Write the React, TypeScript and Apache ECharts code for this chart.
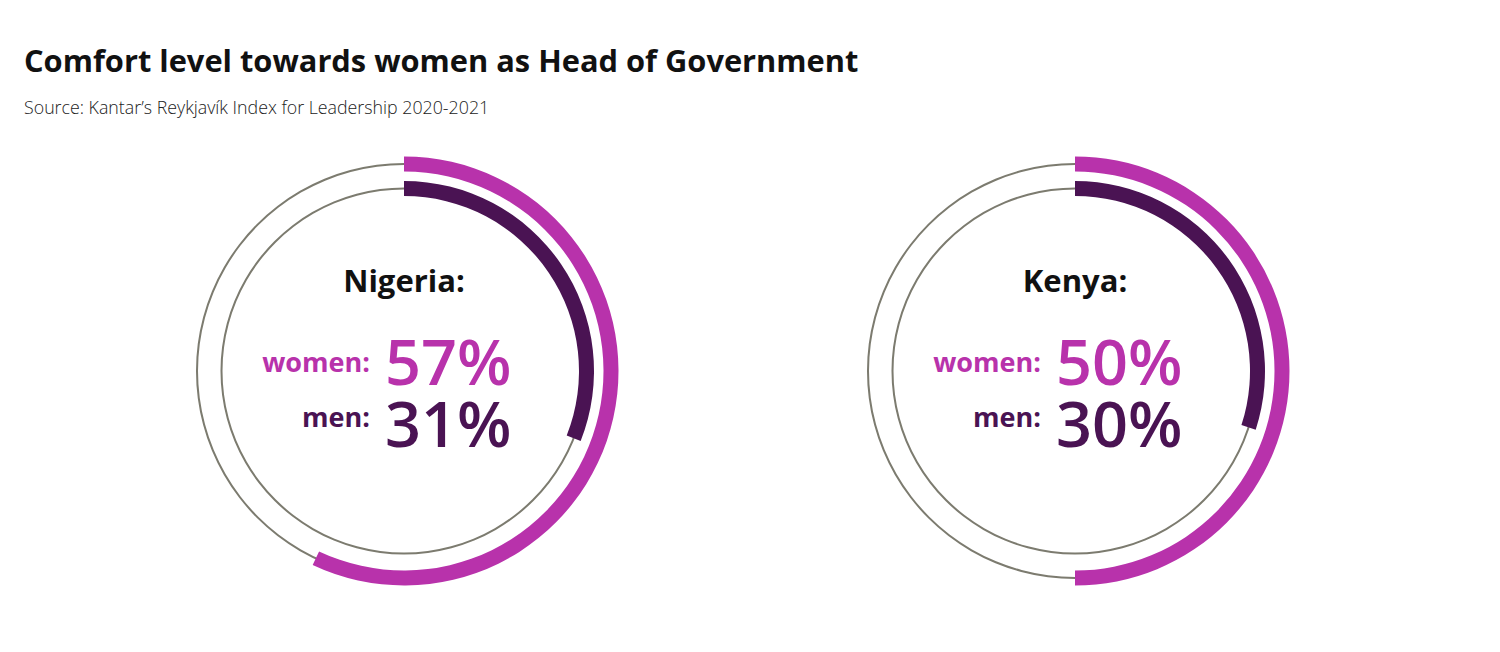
import React, { useEffect, useRef } from "react";
import * as echarts from "echarts";

const countries = ["Nigeria", "Kenya"];
const womenValues = [57, 50];
const menValues = [31, 30];
const groupLabels = ["women:", "men:"];
const titleText = "Comfort level towards women as Head of Government";
const sourceText = "Source: Kantar\u2019s Reykjavík Index for Leadership 2020-2021";

const MAGENTA = "#b832ab";
const PURPLE = "#4a1353";
const GRAY = "#7c7b6f";
const FONT = "'Open Sans'";

export default function App() {
  const ref = useRef<HTMLDivElement>(null);
  useEffect(() => {
    if (!ref.current) return;
    const chart = echarts.init(ref.current, null, { renderer: "svg" });
    const centersX = [404, 1075];
    const cy = 371;
    const series: any[] = [];
    const graphics: any[] = [];
    const base = {
      type: "pie",
      silent: true,
      label: { show: false },
      labelLine: { show: false },
      emphasis: { disabled: true },
      startAngle: 90,
      clockwise: true,
      avoidLabelOverlap: false,
    };
    countries.forEach((name, i) => {
      const cx = centersX[i];
      series.push({
        ...base,
        z: 1,
        center: [cx, cy],
        radius: [206, 208],
        data: [{ value: 100, itemStyle: { color: GRAY } }],
      });
      series.push({
        ...base,
        z: 1,
        center: [cx, cy],
        radius: [181.5, 183.5],
        data: [{ value: 100, itemStyle: { color: GRAY } }],
      });
      series.push({
        ...base,
        z: 2,
        center: [cx, cy],
        radius: [199.5, 214.5],
        data: [
          { value: womenValues[i], itemStyle: { color: MAGENTA } },
          { value: 100 - womenValues[i], itemStyle: { color: "transparent" } },
        ],
      });
      series.push({
        ...base,
        z: 2,
        center: [cx, cy],
        radius: [175, 190],
        data: [
          { value: menValues[i], itemStyle: { color: PURPLE } },
          { value: 100 - menValues[i], itemStyle: { color: "transparent" } },
        ],
      });
      graphics.push({
        type: "text",
        x: cx,
        y: 280,
        style: { text: name + ":", font: `bold 31px ${FONT}`, fill: "#111", align: "center", verticalAlign: "middle" },
      });
      graphics.push({
        type: "text",
        x: cx - 34,
        y: 361.5,
        style: { text: groupLabels[0], font: `bold 27px ${FONT}`, fill: MAGENTA, align: "right", verticalAlign: "middle", lineHeight: 24 },
      });
      graphics.push({
        type: "text",
        x: cx - 34,
        y: 416.5,
        style: { text: groupLabels[1], font: `bold 27px ${FONT}`, fill: PURPLE, align: "right", verticalAlign: "middle", lineHeight: 24 },
      });
      graphics.push({
        type: "text",
        x: cx - 19,
        y: 329,
        style: {
          text: `{w|${womenValues[i]}%}\n{m|${menValues[i]}%}`,
          align: "left",
          verticalAlign: "top",
          rich: {
            w: { font: `600 63px ${FONT}`, fill: MAGENTA, lineHeight: 62 },
            m: { font: `600 63px ${FONT}`, fill: PURPLE, lineHeight: 62 },
          },
        },
      });
    });
    graphics.push({
      type: "text",
      x: 24,
      y: 60,
      style: { text: titleText, font: `bold 30.8px ${FONT}`, fill: "#111", align: "left", verticalAlign: "middle" },
    });
    graphics.push({
      type: "text",
      x: 24,
      y: 106.5,
      style: { text: sourceText, font: `300 17.8px ${FONT}`, fill: "#222", align: "left", verticalAlign: "middle" },
    });
    chart.setOption({
      animation: false,
      backgroundColor: "#ffffff",
      series,
      graphic: graphics,
    });
    return () => chart.dispose();
  }, []);
  return (
    <div
      ref={ref}
      style={{ position: "fixed", left: 0, top: 0, width: 1500, height: 652 }}
    />
  );
}
